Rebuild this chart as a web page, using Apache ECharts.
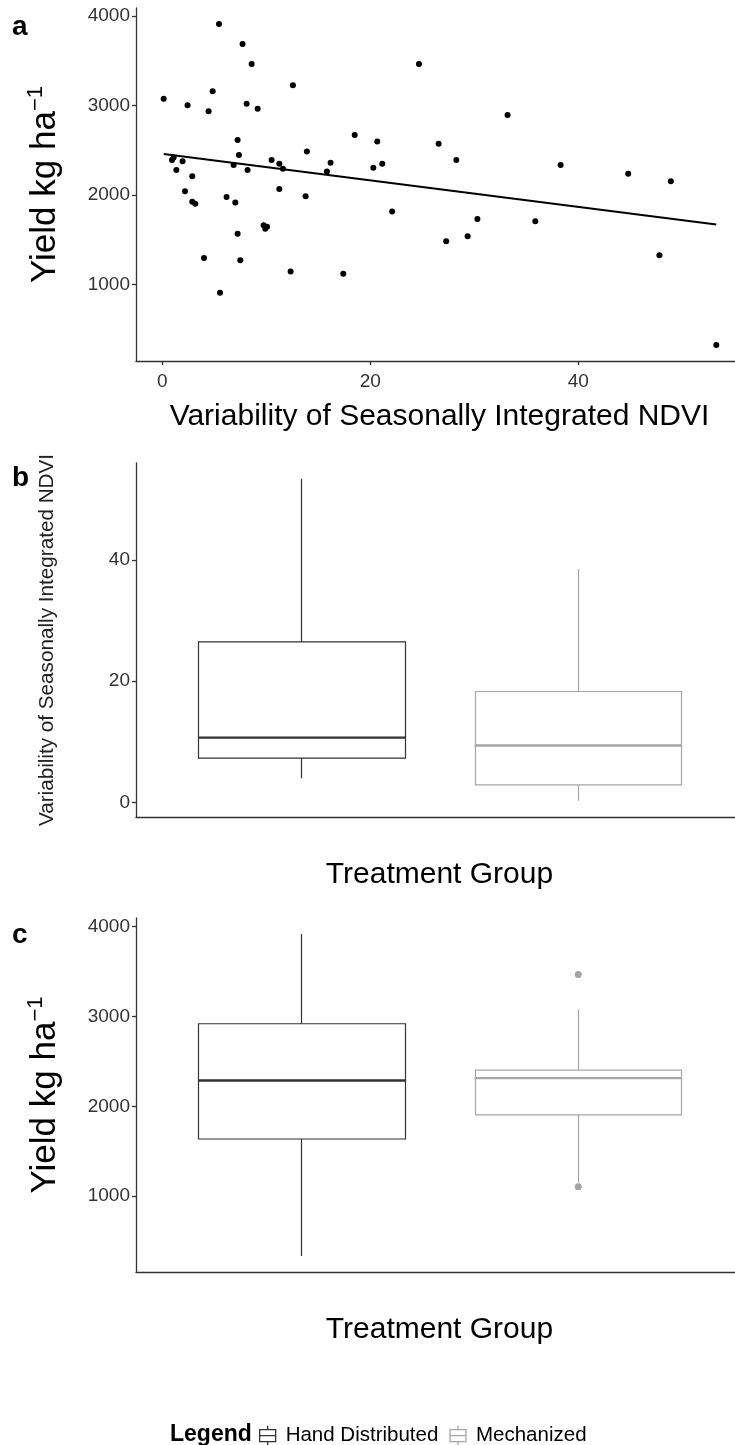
<!DOCTYPE html>
<html>
<head>
<meta charset="utf-8">
<script src="https://cdn.jsdelivr.net/npm/echarts@6/dist/echarts.min.js"></script>
<style>
  html, body { margin: 0; padding: 0; background: #fff; }
  #chart { width: 735px; height: 1445px; }
</style>
</head>
<body>
<div id="chart"></div>
<script>
// panel a: NDVI variability vs yield (one entry per field)
const ndviVar = [0.13, 5.45, 7.72, 8.59, 4.84, 2.43, 4.45, 8.11, 9.17, 12.56, 24.68, 7.24, 18.5, 20.67, 13.9,
  7.37, 0.93, 1.09, 1.95, 1.35, 2.88, 6.86, 8.2, 10.51, 11.25, 11.6, 16.18, 15.83, 20.29, 21.15,
  2.18, 6.18, 11.25, 13.78, 2.88, 3.17, 7.02, 22.1, 7.24, 9.74, 10.07, 9.9, 4.01, 7.5, 12.34,
  17.4, 5.55, 33.2, 26.57, 28.27, 38.3, 44.8, 48.9, 30.3, 27.3, 29.36, 35.87, 47.8, 53.27]
const yieldVals = [3075, 3911, 3688, 3465, 3160, 3004, 2937, 3019, 2963, 3227, 3465, 2614, 2670, 2599, 2487,
  2447, 2391, 2420, 2376, 2280, 2209, 2335, 2280, 2391, 2350, 2294, 2361, 2264, 2305, 2350,
  2041, 1979, 2068, 1986, 1926, 1901, 1915, 1815, 1566, 1662, 1645, 1622, 1296, 1272, 1146,
  1120, 909, 2893, 2573, 2391, 2335, 2239, 2153, 1733, 1484, 1540, 1706, 1328, 324]
// fitted line end points
const trendX = [0.13, 53.27]
const trendY = [2458, 1670]

const groups = ['Hand Distributed', 'Mechanized']
// box stats: min, Q1, median, Q3, max
const ndviBox = [
  [4.0, 7.3, 10.7, 26.5, 53.4],
  [0.3, 2.9, 9.4, 18.3, 38.5],
]
const yieldBox = [
  [336, 1636, 2287, 2918, 3915],
  [1150, 1904, 2313, 2402, 3079],
]
const yieldOutliers = [[], [3465, 1105]]

const yieldTicks = [1000, 2000, 3000, 4000]
const ndviTicks = [0, 20, 40]

const colors = ['#333333', '#a6a6a6']
const FONT = 'Liberation Sans, Arial, sans-serif'
const HALF = 0.375 // half box width, in axis units

const lineCol = { color: '#333', width: 1.3 }
function valAxis(grid, min, max, ticks, extra) {
  return Object.assign({
    gridIndex: grid, type: 'value', min: min, max: max,
    axisLine: { show: true, onZero: false, lineStyle: lineCol },
    axisTick: { show: true, length: 4, customValues: ticks, lineStyle: lineCol },
    axisLabel: { color: '#333', fontSize: 19, fontFamily: FONT, customValues: ticks, margin: 6,
      formatter: v => String(v) },
    splitLine: { show: false },
  }, extra)
}

function yieldName() {
  return {
    name: '{m|Yield kg ha}{s|\u22121}',
    nameLocation: 'middle',
    nameRotate: 90,
    nameGap: 71,
    nameTextStyle: {
      color: '#000', fontFamily: FONT, fontSize: 35,
      rich: {
        m: { fontSize: 35, fontFamily: FONT, color: '#000' },
        s: { fontSize: 22, fontFamily: FONT, color: '#000', verticalAlign: 'top', padding: [0, 0, 18, 0] },
      },
    },
  }
}

// the plot area runs a little past the right edge of the picture
const grids = [
  { left: 136, right: 0, top: 8, height: 353 },
  { left: 136, right: 0, top: 463, height: 354 },
  { left: 136, right: 0, top: 918, height: 354 },
]

const groupAxis = grid => ({
  gridIndex: grid, type: 'value', min: 0.4, max: 2.567,
  axisLine: { show: true, onZero: false, lineStyle: lineCol },
  axisTick: { show: false }, axisLabel: { show: false }, splitLine: { show: false },
  name: 'Treatment Group', nameLocation: 'middle', nameGap: 43,
  nameTextStyle: { color: '#000', fontFamily: FONT, fontSize: 30, padding: [0, 0, 0, 8] },
})

const xAxes = [
  valAxis(0, -2.53, 55.07, ndviTicks, {
    name: 'Variability of Seasonally Integrated NDVI',
    nameLocation: 'middle', nameGap: 41,
    nameTextStyle: { color: '#000', fontFamily: FONT, fontSize: 30, padding: [0, 0, 0, 8] },
  }),
  groupAxis(1),
  groupAxis(2),
]
xAxes[0].axisLabel.margin = 11

const yAxes = [
  valAxis(0, 145, 4090, yieldTicks, yieldName()),
  valAxis(1, -2.4, 56, ndviTicks, {
    name: 'Variability of Seasonally Integrated NDVI',
    nameLocation: 'middle', nameRotate: 90, nameGap: 78,
    nameTextStyle: { color: '#222', fontFamily: FONT, fontSize: 20.7 },
  }),
  valAxis(2, 157, 4094, yieldTicks, yieldName()),
]

const series = [
  {
    type: 'scatter', xAxisIndex: 0, yAxisIndex: 0,
    data: ndviVar.map((x, i) => [x, yieldVals[i]]),
    symbolSize: 6, itemStyle: { color: '#000', opacity: 1 }, silent: true,
  },
  {
    type: 'line', xAxisIndex: 0, yAxisIndex: 0,
    data: trendX.map((x, i) => [x, trendY[i]]),
    symbol: 'none', lineStyle: { color: '#000', width: 2 }, silent: true,
  },
]

// ggplot-style boxes: body Q1..Q3, whiskers without caps, thick median
function addBoxes(stats, idx) {
  groups.forEach(function (name, i) {
    const s = stats[i]
    series.push({
      name: name, type: 'candlestick', xAxisIndex: idx, yAxisIndex: idx,
      data: [[i + 1, s[1], s[3], s[0], s[4]]],
      barWidth: 207,
      itemStyle: { color: '#fff', color0: '#fff', borderColor: colors[i], borderColor0: colors[i], borderWidth: 1.2 },
      silent: true,
    })
    series.push({
      name: name, type: 'line', xAxisIndex: idx, yAxisIndex: idx,
      data: [[i + 1 - HALF, s[2]], [i + 1 + HALF, s[2]]],
      symbol: 'none', lineStyle: { color: colors[i], width: 2.4 }, silent: true,
    })
  })
}
addBoxes(ndviBox, 1)
addBoxes(yieldBox, 2)
series.push({
  name: 'Mechanized', type: 'scatter', xAxisIndex: 2, yAxisIndex: 2,
  data: yieldOutliers[1].map(v => [2, v]),
  symbolSize: 7, itemStyle: { color: '#8c8c8c' }, silent: true,
})

const boxIcon = 'path://M9,0V4M1,4H17V16H1ZM1,10H17M9,16V20'
const panelLbl = { fontSize: 28, fontWeight: 'bold', fontFamily: FONT, color: '#000' }

const option = {
  animation: false,
  backgroundColor: '#fff',
  title: [
    { text: 'a', left: 7, top: 8, textStyle: panelLbl },
    { text: 'b', left: 7, top: 459, textStyle: panelLbl },
    { text: 'c', left: 7, top: 916, textStyle: panelLbl },
    { text: 'Legend', left: 165, top: 1418, textStyle: { fontSize: 23, fontWeight: 'bold', fontFamily: FONT, color: '#000' } },
  ],
  legend: {
    left: 254, top: 1420,
    data: groups.map((g, i) => ({
      name: g, icon: boxIcon,
      itemStyle: { color: '#fff', borderColor: colors[i], borderWidth: 1.3 },
    })),
    itemWidth: 18, itemHeight: 20, itemGap: 11,
    textStyle: { fontSize: 20.5, fontFamily: FONT, color: '#000', padding: [0, 0, 0, 4] },
    selectedMode: false,
  },
  grid: grids,
  xAxis: xAxes,
  yAxis: yAxes,
  series: series,
}

const chart = echarts.init(document.getElementById('chart'))
chart.setOption(option)
</script>
</body>
</html>
